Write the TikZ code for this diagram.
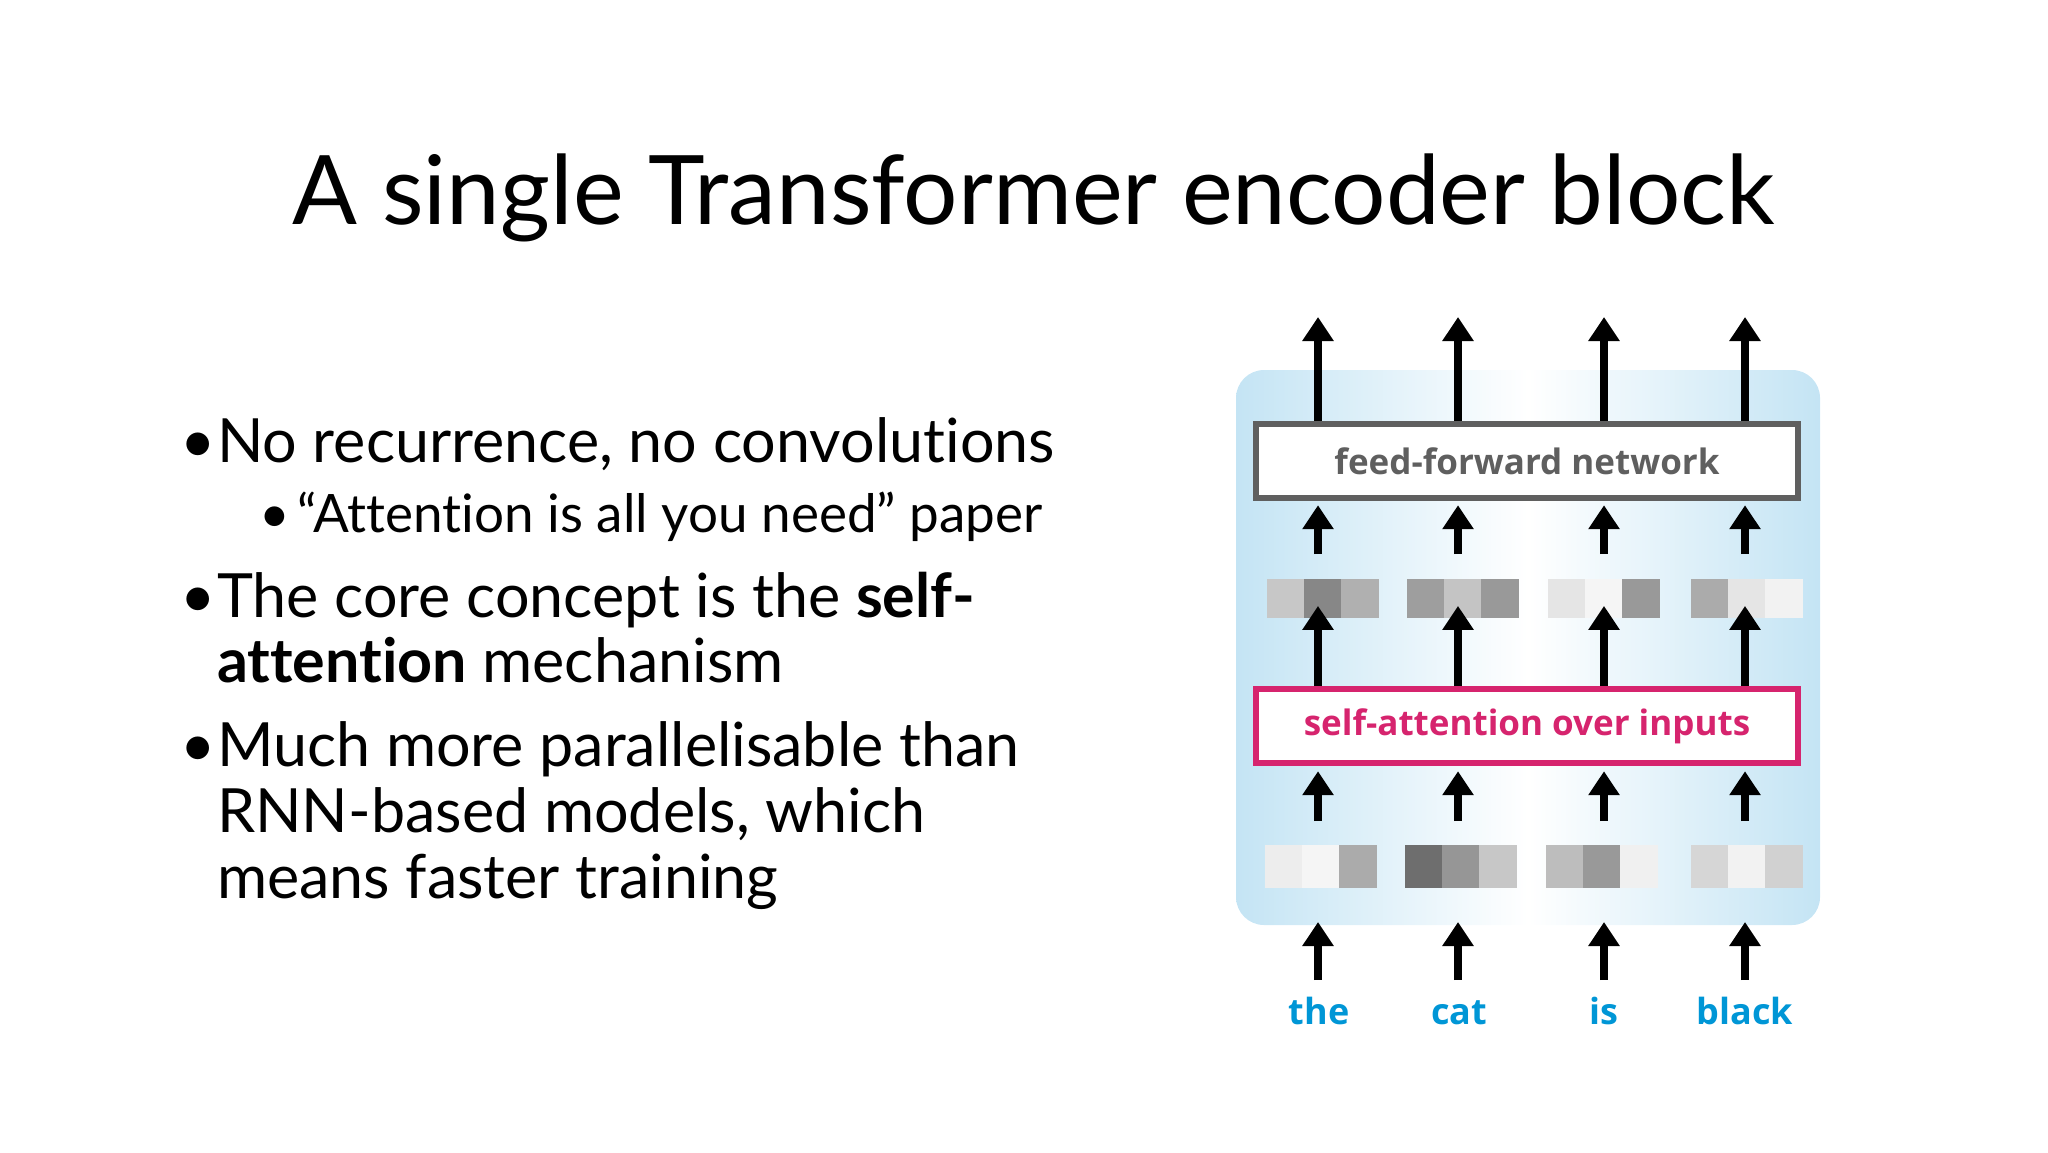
\documentclass[tikz,border=0pt]{standalone}
\usepackage{fontspec}
\setmainfont{Lato}[Ligatures=NoCommon]
\newfontfamily\dfont{Open Sans}
\usetikzlibrary{arrows.meta}
\definecolor{wblue}{RGB}{0,150,214}
\definecolor{smag}{RGB}{214,36,110}
\definecolor{ffgray}{RGB}{95,95,95}
\definecolor{bgblue}{RGB}{196,228,244}
\tikzset{
 up/.style={line width=4.2pt,-{Triangle[width=15pt,length=12pt]}},
 layerbox/.style={draw,line width=3.2pt,fill=white,minimum width=271pt,minimum height=37pt,inner sep=0pt,font=\dfont\bfseries\fontsize{17.5}{20}\selectfont},
 wlabel/.style={font=\dfont\bfseries\fontsize{18}{22}\selectfont,text=wblue},
 cell/.style={minimum width=18.7pt,inner sep=0pt},
 bul/.style={anchor=base west,font=\fontsize{30.5}{34}\selectfont},
 subbul/.style={anchor=base west,font=\fontsize{26.5}{30}\selectfont},
}
\begin{document}
\begin{tikzpicture}[x=0.5pt,y=-0.5pt]
\useasboundingbox (0,0) rectangle (2048,1152);
\node[font=\fontsize{48}{54}\selectfont] (title) at (1034,198) {A single Transformer encoder block};
% bullets
\node[bul] (b1d) at (173,462) {•};
\node[bul] (b1) at (210,462) {No recurrence, no convolutions};
\node[subbul] (b2d) at (252,532) {•};
\node[subbul] (b2) at (290,532) {“Attention is all you need” paper};
\node[bul] (b3d) at (173,617) {•};
\node[bul] (b3) at (210,617) {The core concept is the \textbf{self-}};
\node[bul] (b3b) at (210,682) {\textbf{attention} mechanism};
\node[bul] (b4d) at (173,766) {•};
\node[bul] (b4) at (210,766) {Much more parallelisable than};
\node[bul] (b4b) at (210,832) {RNN-based models, which};
\node[bul] (b4c) at (210,898) {means faster training};
% block background
\shade[left color=bgblue,right color=bgblue,middle color=white,rounded corners=14pt] (1236,370) rectangle (1820,925);
\node[layerbox,draw=ffgray,text=ffgray] (ffn) at (1527,461) {feed-forward network};
\node[layerbox,draw=smag,text=smag] (sa) at (1527,726) {self-attention over inputs};
% vectors
\foreach \nm/\cx/\y/\h/\ga/\gb/\gc in {
 ua/1323/598/19.5/22/47/31, ub/1463/598/19.5/38/23/40, uc/1604/598/19.5/10/4/40, ud/1747/598/19.5/33/10/5,
 la/1321/866/21.5/7/4/33, lb/1461/866/21.5/57/41/22, lc/1602/866/21.5/26/40/6, ld/1747/866/21.5/16/5/18}{
 \node[cell,minimum height=\h pt,fill=black!\ga] (\nm1) at (\cx-37,\y) {};
 \node[cell,minimum height=\h pt,fill=black!\gb] (\nm2) at (\cx,\y) {};
 \node[cell,minimum height=\h pt,fill=black!\gc] (\nm3) at (\cx+37,\y) {};
}
% words
\node[wlabel,anchor=base] (w1) at (1319,1024) {the};
\node[wlabel,anchor=base] (w2) at (1459,1024) {cat};
\node[wlabel,anchor=base] (w3) at (1604,1024) {is};
\node[wlabel,anchor=base] (w4) at (1745,1024) {black};
% arrows
\foreach \i/\cx/\v in {1/1318/a,2/1458/b,3/1604/c,4/1745/d}{
 \coordinate (top\i) at (\cx,317);
 \coordinate (col\i) at (\cx,0);
 \draw[up] (\cx,980) -- (\cx,922);
 \draw[up] (l\v2.north-|col\i) ++(0,-23) -- ([yshift=-2.5pt]sa.south-|col\i);
 \draw[up] (sa.north-|col\i) -- ([yshift=6pt]u\v2.south-|col\i);
 \draw[up] ([yshift=12pt]u\v2.north-|col\i) -- ([yshift=-2pt]ffn.south-|col\i);
 \draw[up] (ffn.north-|col\i) -- (top\i);
}
\end{tikzpicture}
\end{document}
